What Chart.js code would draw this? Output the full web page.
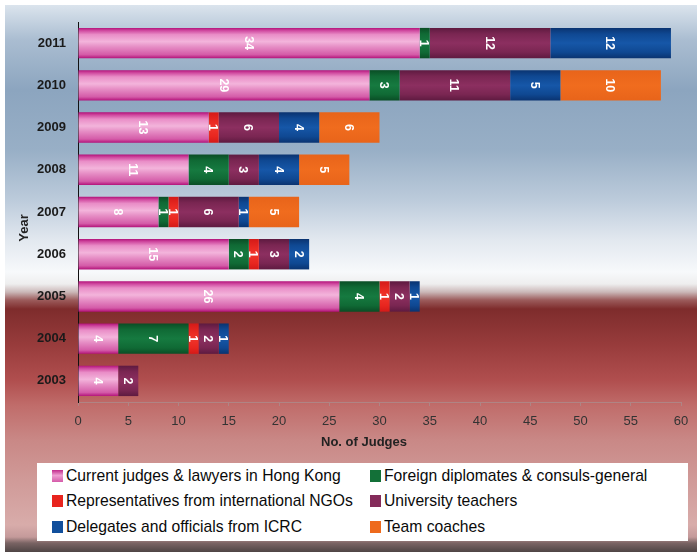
<!DOCTYPE html>
<html>
<head>
<meta charset="utf-8">
<script src="https://cdn.jsdelivr.net/npm/chart.js@4/dist/chart.umd.min.js"></script>
<style>
  html, body { margin: 0; padding: 0; background: #fff; }
  #wrap { position: relative; width: 697px; height: 552px; overflow: hidden; }
  #chart { position: absolute; left: 0; top: 0; }
  #legend {
    position: absolute; left: 37px; top: 463px; width: 651px; height: 78px;
    background: #fff; font-family: "Liberation Sans", Arial, sans-serif;
    font-size: 15.7px; color: #0a0a0a;
  }
  .item { position: absolute; display: flex; align-items: center; height: 18px; white-space: nowrap; }
  .sw { width: 11px; height: 12px; margin-right: 3px; flex: none; }
</style>
</head>
<body>
<div id="wrap">
  <canvas id="chart" width="697" height="552"></canvas>
  <div id="legend"></div>
</div>
<script>
// Judges of the moot court competition, by background and year
const years = ['2011', '2010', '2009', '2008', '2007', '2006', '2005', '2004', '2003'];
const judgesLawyersHK = [34, 29, 13, 11, 8, 15, 26, 4, 4];
const foreignDiplomats = [1, 3, 0, 4, 1, 2, 4, 7, 0];
const ngoRepresentatives = [0, 0, 1, 0, 1, 1, 1, 1, 0];
const universityTeachers = [12, 11, 6, 3, 6, 3, 2, 2, 2];
const icrcDelegates = [12, 5, 4, 4, 1, 2, 1, 1, 0];
const teamCoaches = [0, 10, 6, 5, 5, 0, 0, 0, 0];
const xTicks = [0, 5, 10, 15, 20, 25, 30, 35, 40, 45, 50, 55, 60];

const seriesNames = [
  'Current judges & lawyers in Hong Kong',
  'Foreign diplomates & consuls-general',
  'Representatives from international NGOs',
  'University teachers',
  'Delegates and officials from ICRC',
  'Team coaches'
];
const seriesData = [judgesLawyersHK, foreignDiplomats, ngoRepresentatives,
                    universityTeachers, icrcDelegates, teamCoaches];

// glossy vertical shading stops for each series: [offset, colour]
const shades = [
  [[0, '#b3127a'], [0.09, '#d04aa0'], [0.22, '#e98dc7'], [0.45, '#f3b4db'], [0.62, '#e68ec5'], [0.88, '#d45ba8'], [1, '#b3127a']],
  [[0, '#0a4d25'], [0.2, '#106a35'], [0.5, '#167a40'], [0.8, '#106a35'], [1, '#0a4d25']],
  [[0, '#d41a18'], [0.3, '#ea2a22'], [0.5, '#f0352b'], [0.8, '#e8261f'], [1, '#d41a18']],
  [[0, '#5e1a40'], [0.2, '#7a2652'], [0.5, '#8c2f60'], [0.8, '#7a2652'], [1, '#5e1a40']],
  [[0, '#0a3370'], [0.2, '#0f4892'], [0.5, '#1657a8'], [0.8, '#0f4892'], [1, '#0a3370']],
  [[0, '#e8641a'], [0.5, '#f06c1e'], [1, '#e8641a']]
];
const flatColors = ['#e27dbd', '#137038', '#e8241e', '#842b5a', '#114f9c', '#ee6a1c'];

const BAR_PCT = 0.72;

function barFill(i) {
  return function (ctx) {
    const chart = ctx.chart;
    if (!chart.chartArea || ctx.dataIndex === undefined) return flatColors[i];
    const yScale = chart.scales.y;
    const cy = yScale.getPixelForValue(ctx.dataIndex);
    const half = (yScale.height / years.length) * BAR_PCT / 2;
    const g = chart.ctx.createLinearGradient(0, cy - half, 0, cy + half);
    shades[i].forEach(([o, c]) => g.addColorStop(o, c));
    return g;
  };
}

// page backdrop: blue-grey sky fading to white, then a deep red band
const backdrop = {
  id: 'backdrop',
  beforeDraw(chart) {
    const c = chart.ctx;
    const W = chart.width, H = chart.height;
    c.save();
    c.fillStyle = '#ffffff';
    c.fillRect(0, 0, W, H);
    const g = c.createLinearGradient(0, 5, 0, H);
    const stops = [
      [5, '#dbe4ed'], [40, '#aabdd1'], [90, '#8ca5bf'], [150, '#98afc6'],
      [200, '#bccbdb'], [240, '#e2e8ef'], [272, '#f7f9fb'], [284, '#eeeeee'],
      [292, '#cbb8b8'], [300, '#9c5c5c'], [309, '#7e2c2c'], [345, '#983c3c'],
      [380, '#b04e4e'], [405, '#c06c6a'], [440, '#c98886'], [480, '#d09a98'],
      [525, '#d8acaa'], [537, '#c49a9a'], [543, '#7a6464'], [552, '#4e4444']
    ];
    stops.forEach(([y, col]) => g.addColorStop((y - 5) / (H - 5), col));
    c.fillStyle = g;
    c.fillRect(5, 5, W - 5, H - 5);
    c.restore();
  }
};

// value labels inside each segment, turned a quarter clockwise
const segmentLabels = {
  id: 'segmentLabels',
  afterDatasetsDraw(chart) {
    const c = chart.ctx;
    c.save();
    c.font = 'bold 12.5px "Liberation Sans", Arial, sans-serif';
    c.fillStyle = '#ffffff';
    c.textAlign = 'center';
    c.textBaseline = 'middle';
    chart.data.datasets.forEach((ds, i) => {
      const meta = chart.getDatasetMeta(i);
      meta.data.forEach((el, j) => {
        const v = ds.data[j];
        if (!v) return;
        const x = (el.x + el.base) / 2;
        c.save();
        c.translate(x, el.y);
        c.rotate(Math.PI / 2);
        c.fillText(String(v), 0, 1);
        c.restore();
      });
    });
    c.restore();
  }
};

// axis titles
const axisTitles = {
  id: 'axisTitles',
  afterDraw(chart) {
    const c = chart.ctx;
    c.save();
    c.font = 'bold 13px "Liberation Sans", Arial, sans-serif';
    c.fillStyle = '#222';
    c.textAlign = 'center';
    c.textBaseline = 'middle';
    c.fillText('No. of Judges', 364, 442);
    c.translate(24, 228);
    c.rotate(-Math.PI / 2);
    c.fillText('Year', 0, 0);
    c.restore();
  }
};

const datasets = seriesData.map((data, i) => ({
  label: seriesNames[i],
  data: data,
  backgroundColor: barFill(i),
  borderWidth: 0,
  barPercentage: BAR_PCT,
  categoryPercentage: 1
}));

new Chart(document.getElementById('chart'), {
  type: 'bar',
  data: { labels: years, datasets: datasets },
  plugins: [backdrop, segmentLabels, axisTitles],
  options: {
    indexAxis: 'y',
    responsive: false,
    animation: false,
    layout: { padding: { left: 36, right: 16, top: 22, bottom: 0 } },
    plugins: { legend: { display: false }, tooltip: { enabled: false } },
    scales: {
      x: {
        stacked: true,
        min: 0,
        max: 60,
        afterBuildTicks(s) { s.ticks = xTicks.map(v => ({ value: v })); },
        afterFit(s) { s.height = 150; },
        grid: { drawOnChartArea: false, drawTicks: true, tickLength: 4, tickColor: '#b08484' },
        border: { display: true, color: '#b08484', width: 1 },
        ticks: {
          padding: 8,
          color: '#333',
          font: { family: '"Liberation Sans", Arial, sans-serif', size: 13 }
        }
      },
      y: {
        stacked: true,
        afterFit(s) { s.width = 42; },
        grid: { drawOnChartArea: false, drawTicks: false },
        border: { display: true, color: '#111', width: 1 },
        ticks: {
          padding: 12,
          color: '#1a1a1a',
          font: { family: '"Liberation Sans", Arial, sans-serif', size: 13, weight: 'bold' }
        }
      }
    }
  }
});

// legend: two columns, three rows
const legendEl = document.getElementById('legend');
const legendPos = [[15, 13], [333, 13], [15, 38], [333, 38], [15, 64], [333, 64]];
const swatchCss = [
  'linear-gradient(#c22a8c, #ee9fd2 45%, #d55aa9)',
  '#137038', '#e8241e', '#842b5a', '#114f9c', '#ee6a1c'
];
seriesNames.forEach((name, i) => {
  const it = document.createElement('div');
  it.className = 'item';
  it.style.left = legendPos[i][0] + 'px';
  it.style.top = (legendPos[i][1] - 9) + 'px';
  const sw = document.createElement('span');
  sw.className = 'sw';
  sw.style.background = swatchCss[i];
  const tx = document.createElement('span');
  tx.textContent = name;
  it.appendChild(sw);
  it.appendChild(tx);
  legendEl.appendChild(it);
});
</script>
</body>
</html>
